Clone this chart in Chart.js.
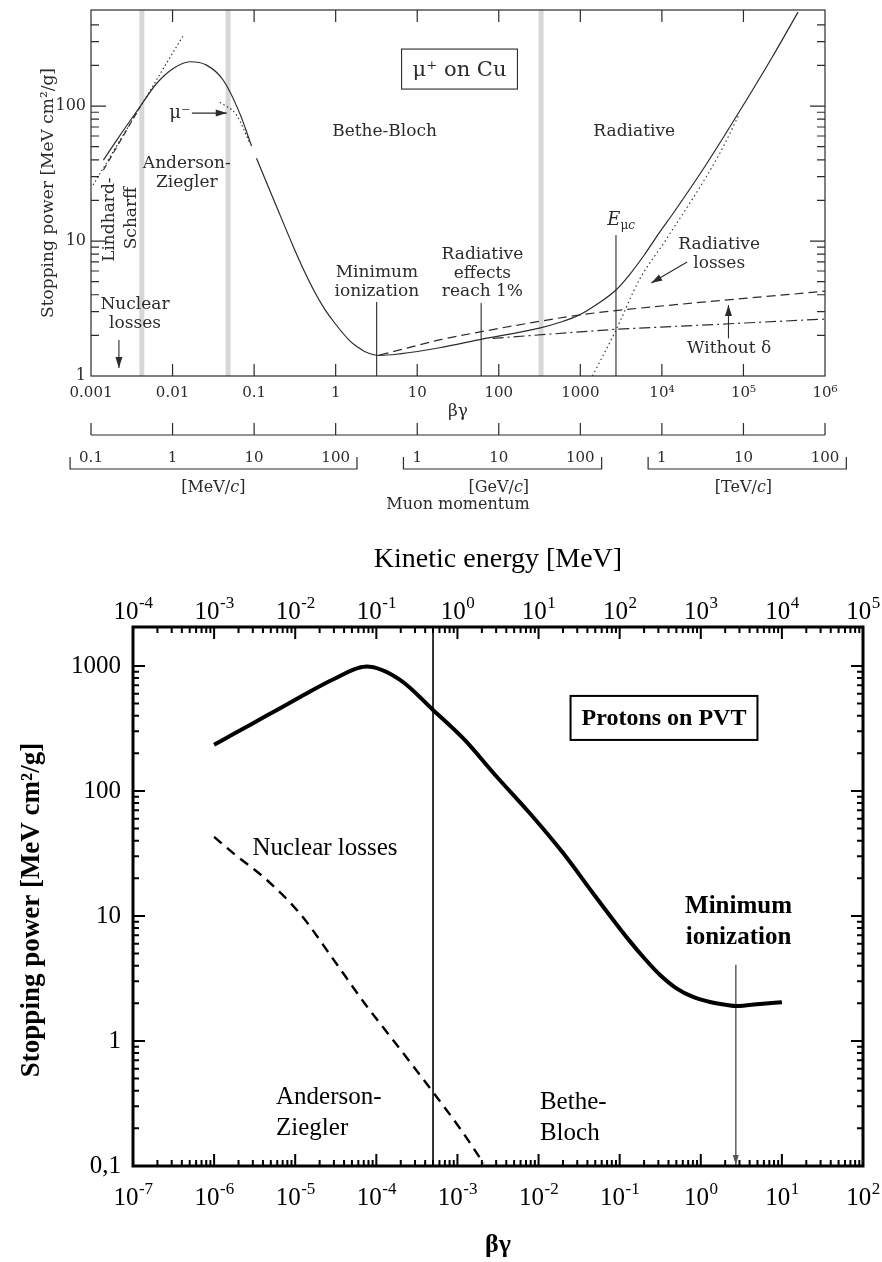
<!DOCTYPE html>
<html>
<head>
<meta charset="utf-8">
<script src="https://cdn.jsdelivr.net/npm/chart.js@4/dist/chart.umd.min.js"></script>
<style>
html,body{margin:0;padding:0;background:#fff;width:882px;height:1262px;overflow:hidden;}
#wrapTop{position:absolute;left:0;top:0;width:882px;height:530px;}
#wrapBot{position:absolute;left:0;top:530px;width:882px;height:732px;}
</style>
</head>
<body>
<div id="wrapTop"><canvas id="cTop" width="882" height="530"></canvas></div>
<div id="wrapBot"><canvas id="cBot" width="882" height="732"></canvas></div>
<script>
// ================= TOP CHART DATA : mu+ on Cu =================
const topXTicks  = [1e-3, 1e-2, 1e-1, 1, 10, 100, 1000, 1e4, 1e5, 1e6];
const topXLabels = ['0.001', '0.01', '0.1', '1', '10', '100', '1000', '10⁴', '10⁵', '10⁶'];
const topYTicks  = [1, 10, 100];
const topYLabels = ['1', '10', '100'];

// total stopping power, low-energy branch (Lindhard-Scharff / Anderson-Ziegler)
const muLowBG = [0.00142, 0.00207, 0.00398, 0.00637, 0.0102, 0.0163, 0.0261, 0.0417, 0.0667, 0.0929];
const muLowS  = [39.8, 56, 98.8, 147, 190, 213, 201, 156, 88.3, 50.6];
// Bethe-Bloch + radiative branch
const muHighBG = [0.107, 0.179, 0.315, 0.417, 0.553, 0.733, 0.973, 1.48, 1.83, 2.26, 3.46, 6.08, 18.7, 61, 314, 553, 973, 1616, 2735, 3980, 6080, 9270, 13500, 34600, 88400, 226000, 467000];
const muHighS  = [41, 19.4, 8.58, 5.89, 4.19, 3.13, 2.47, 1.83, 1.65, 1.52, 1.42, 1.46, 1.62, 1.87, 2.26, 2.49, 2.83, 3.41, 4.34, 5.6, 7.88, 11.5, 15.8, 36.6, 90.3, 231, 497];
// mu- (dotted)
const muMinusBG = [0.038, 0.0608, 0.089];
const muMinusS  = [107, 85.8, 53];
// Lindhard-Scharff extrapolation (dotted)
const lindhardBG = [0.00106, 0.0134];
const lindhardS  = [26, 330];
// low-energy dashed
const lowDashBG = [0.00142, 0.004];
const lowDashS  = [33.6, 98.8];
// dashed (ionization incl. delta rays)
const densityBG = [3.46, 6.08, 18.7, 61, 967, 2720, 1e6];
const densityS  = [1.43, 1.56, 1.85, 2.13, 2.83, 3.05, 4.25];
// dash-dot : without delta
const noDeltaBG = [84, 2720, 1e6];
const noDeltaS  = [1.9, 2.22, 2.64];
// radiative losses (dotted)
const radLossBG = [1406, 2735, 5270, 11200, 50000, 88000];
const radLossS  = [1, 2.19, 5.14, 10.2, 43.4, 86];
// region boundaries (grey bands)
const regionBG = [0.0042, 0.048, 330];
// marker lines: Minimum ionization, Radiative effects 1%, E_muc
const markerBG  = [3.18, 60.8, 2735];
const markerTop = [3.53, 3.47, 11.1];

// muon momentum scale
const momUnits   = ['MeV', 'GeV', 'TeV'];
const momLabels  = [['0.1', '1', '10', '100'], ['1', '10', '100'], ['1', '10', '100']];
const momAtBG    = [[1e-3, 1e-2, 1e-1, 1], [10, 100, 1000], [1e4, 1e5, 1e6]];

// ================= BOTTOM CHART DATA : protons on PVT =================
const botXTicks = [1e-7, 1e-6, 1e-5, 1e-4, 1e-3, 1e-2, 1e-1, 1, 10, 100];
const botXExp   = ['-7', '-6', '-5', '-4', '-3', '-2', '-1', '0', '1', '2'];
const keTicks   = [1e-4, 1e-3, 1e-2, 1e-1, 1, 10, 100, 1000, 1e4, 1e5];
const keExp     = ['-4', '-3', '-2', '-1', '0', '1', '2', '3', '4', '5'];
const botYTicks  = [0.1, 1, 10, 100, 1000];
const botYLabels = ['0,1', '1', '10', '100', '1000'];

const protonBG = [1e-6, 1.73e-6, 4.46e-6, 1.15e-5, 2.92e-5, 7.6e-5, 1.96e-4, 5.0e-4, 1.18e-3, 3.05e-3, 7.85e-3, 0.0202, 0.05, 0.128, 0.2, 0.315, 0.496, 0.803, 1.3, 2.11, 2.8, 5.38, 10];
const protonS  = [234, 285, 401, 564, 780, 990, 775, 445, 263, 130, 66, 31.7, 14.4, 6.5, 4.61, 3.37, 2.65, 2.25, 2.05, 1.94, 1.905, 1.98, 2.04];
const nuclearBG = [1e-6, 1.72e-6, 4.47e-6, 1.15e-5, 2.95e-5, 7.38e-5, 1.64e-4, 5.0e-4, 1.11e-3, 2.1e-3];
const nuclearS  = [43, 31.8, 19.4, 10.4, 4.5, 1.95, 1.0, 0.39, 0.194, 0.105];
const boundaryBG = 5.0e-4;       // Anderson-Ziegler / Bethe-Bloch boundary
const minIonBG = 2.7, minIonFrom = 4.06;

// ================= helpers =================
const INK = '#2b2b2b';
const FT = '"DejaVu Serif", serif';
const FB = '"Liberation Serif", "Times New Roman", serif';
function pts(xs, ys) { return xs.map((x, i) => ({x: x, y: ys[i]})); }
function line(xs, ys, opt) {
  return Object.assign({data: pts(xs, ys), showLine: true, pointRadius: 0, pointHitRadius: 0,
    borderColor: INK, borderWidth: 1.2, fill: false, cubicInterpolationMode: 'monotone'}, opt || {});
}
function logGrid(min, max) {
  const out = [];
  const e0 = Math.floor(Math.log10(min) + 1e-9), e1 = Math.ceil(Math.log10(max) - 1e-9);
  for (let e = e0; e <= e1; e++) for (let m = 1; m <= 9; m++) {
    const v = m * Math.pow(10, e);
    if (v >= min * 0.9999 && v <= max * 1.0001) out.push({v: v, major: m === 1});
  }
  return out;
}
function head(ctx, x1, y1, x2, y2, len, half) {
  const a = Math.atan2(y2 - y1, x2 - x1), c = Math.cos(a), s = Math.sin(a);
  ctx.beginPath();
  ctx.moveTo(x2, y2);
  ctx.lineTo(x2 - len * c + half * s, y2 - len * s - half * c);
  ctx.lineTo(x2 - len * c - half * s, y2 - len * s + half * c);
  ctx.closePath(); ctx.fill();
}
function arrow(ctx, x1, y1, x2, y2, lw, len, half) {
  ctx.lineWidth = lw;
  ctx.beginPath(); ctx.moveTo(x1, y1); ctx.lineTo(x2, y2); ctx.stroke();
  head(ctx, x1, y1, x2, y2, len, half);
}
function setTicks(values) { return s => { s.ticks = values.map(v => ({value: v})); }; }
function fixSize(prop, size) {
  return s => { s[prop] = size; s.paddingLeft = 0; s.paddingRight = 0; s.paddingTop = 0; s.paddingBottom = 0; };
}
function expLabel(ctx, cx, baseline, mant, exp, fMant, fExp, raise) {
  ctx.font = fMant; const wm = ctx.measureText(mant).width;
  ctx.font = fExp; const we = ctx.measureText(exp).width;
  const x0 = cx - (wm + we) / 2;
  ctx.textAlign = 'left'; ctx.textBaseline = 'alphabetic';
  ctx.font = fMant; ctx.fillText(mant, x0, baseline);
  ctx.font = fExp; ctx.fillText(exp, x0 + wm + 0.5, baseline - raise);
}

// ================= TOP CHART =================
const topNotes = [
  {lines: ['Bethe-Bloch'], x: 3.98, y: 64.2},
  {lines: ['Radiative'], x: 4580, y: 64.2},
  {lines: ['Anderson-', 'Ziegler'], x: 0.01496, y: 37.2},
  {lines: ['Nuclear', 'losses'], x: 0.00346, y: 3.36},
  {lines: ['Minimum', 'ionization'], x: 3.2, y: 5.79},
  {lines: ['Radiative', 'effects', 'reach 1%'], x: 63, y: 7.87},
  {lines: ['Radiative', 'losses'], x: 50400, y: 9.4},
  {lines: ['Without δ'], x: 66700, y: 1.61}
];
const topArrows = [
  {from: [0.01726, 88.7], to: [0.0462, 88.7]},
  {from: [0.0022, 1.85], to: [0.0022, 1.146]},
  {from: [20400, 6.99], to: [7400, 4.88]},
  {from: [65500, 1.90], to: [65500, 3.36]}
];

const topDecor = {
  id: 'topDecor',
  afterDraw(chart) {
    const ctx = chart.ctx, a = chart.chartArea, xs = chart.scales.x, ys = chart.scales.y;
    const X = v => xs.getPixelForValue(v), Y = v => ys.getPixelForValue(v);
    ctx.save();
    ctx.strokeStyle = INK; ctx.fillStyle = INK; ctx.lineWidth = 1.2;
    ctx.strokeRect(a.left, a.top, a.right - a.left, a.bottom - a.top);
    ctx.beginPath();
    topXTicks.forEach(v => {
      const px = X(v);
      if (px > a.left + 2 && px < a.right - 2) {
        ctx.moveTo(px, a.top); ctx.lineTo(px, a.top + 12);
        ctx.moveTo(px, a.bottom); ctx.lineTo(px, a.bottom - 12);
      }
    });
    logGrid(1, 515).forEach(t => {
      const py = Y(t.v);
      if (py < a.bottom - 2 && py > a.top + 2) {
        const L = t.major ? 15 : 8;
        ctx.moveTo(a.left, py); ctx.lineTo(a.left + L, py);
        ctx.moveTo(a.right, py); ctx.lineTo(a.right - L, py);
      }
    });
    ctx.stroke();

    // second beta-gamma / momentum axis line
    const y2 = a.bottom + 59;
    ctx.beginPath();
    ctx.moveTo(a.left, y2); ctx.lineTo(a.right, y2);
    topXTicks.forEach(v => { const px = X(v); ctx.moveTo(px, y2); ctx.lineTo(px, y2 - 12); });
    ctx.stroke();

    // momentum brackets
    ctx.textAlign = 'center'; ctx.textBaseline = 'middle';
    momAtBG.forEach((grp, gi) => {
      ctx.font = '15px ' + FT;
      const labs = momLabels[gi];
      const px = grp.map(X);
      labs.forEach((t, i) => ctx.fillText(t, px[i], a.bottom + 82));
      const l = px[0] - ctx.measureText(labs[0]).width / 2 - 9;
      const r = px[px.length - 1] + ctx.measureText(labs[labs.length - 1]).width / 2 + 7;
      const yb = a.bottom + 93;
      ctx.beginPath();
      ctx.moveTo(l, yb - 12); ctx.lineTo(l, yb); ctx.lineTo(r, yb); ctx.lineTo(r, yb - 12);
      ctx.stroke();
      const mid = X(Math.pow(10, (Math.log10(grp[0]) + Math.log10(grp[grp.length - 1])) / 2));
      ctx.font = '16px ' + FT;
      const p1 = '[' + momUnits[gi] + '/', p3 = ']';
      const w1 = ctx.measureText(p1).width, w3 = ctx.measureText(p3).width;
      ctx.font = 'italic 16px ' + FT;
      const w2 = ctx.measureText('c').width;
      const sx = mid - (w1 + w2 + w3) / 2;
      ctx.textAlign = 'left';
      ctx.font = '16px ' + FT; ctx.fillText(p1, sx, a.bottom + 112);
      ctx.font = 'italic 16px ' + FT; ctx.fillText('c', sx + w1, a.bottom + 112);
      ctx.font = '16px ' + FT; ctx.fillText(p3, sx + w1 + w2, a.bottom + 112);
      ctx.textAlign = 'center';
    });
    ctx.font = '16px ' + FT;
    ctx.fillText('Muon momentum', (a.left + a.right) / 2, a.bottom + 129);

    // annotations
    ctx.font = '17px ' + FT;
    topNotes.forEach(n => {
      const px = X(n.x), py = Y(n.y);
      n.lines.forEach((t, i) => ctx.fillText(t, px, py + i * 18.5));
    });
    [['Lindhard-', 0.00171, 14.4], ['Scharff', 0.00318, 14.8]].forEach(r => {
      ctx.save(); ctx.translate(X(r[1]), Y(r[2])); ctx.rotate(-Math.PI / 2);
      ctx.fillText(r[0], 0, 0); ctx.restore();
    });
    // E_muc
    ctx.textAlign = 'left';
    const ex = X(2140), ey = Y(14.3);
    ctx.font = 'italic 18px ' + FT; ctx.fillText('E', ex, ey);
    const we = ctx.measureText('E').width;
    ctx.font = '12px ' + FT; ctx.fillText('μ', ex + we, ey + 6);
    const wm = ctx.measureText('μ').width;
    ctx.font = 'italic 12px ' + FT; ctx.fillText('c', ex + we + wm, ey + 6);
    // mu- label
    ctx.textAlign = 'center';
    ctx.font = '18px ' + FT; ctx.fillText('μ⁻', X(0.0123), Y(88.7));
    topArrows.forEach(ar => arrow(ctx, X(ar.from[0]), Y(ar.from[1]), X(ar.to[0]), Y(ar.to[1]), 1.1, 11, 3.5));
    // mu+ on Cu box
    ctx.font = '21px ' + FT;
    const bx = X(33), by = Y(188);
    const bw = ctx.measureText('μ⁺ on Cu').width + 22;
    ctx.lineWidth = 1.1;
    ctx.strokeRect(bx - bw / 2, by - 20, bw, 40);
    ctx.fillText('μ⁺ on Cu', bx, by + 1);
    ctx.restore();
  }
};

const topDatasets = [
  line(muLowBG, muLowS),
  line(muHighBG, muHighS),
  line(lindhardBG, lindhardS, {borderDash: [1.5, 2.6], borderWidth: 1.1}),
  line(lowDashBG, lowDashS, {borderDash: [6, 4]}),
  line(muMinusBG, muMinusS, {borderDash: [1.5, 2.6], borderWidth: 1.1}),
  line(densityBG, densityS, {borderDash: [9, 5]}),
  line(noDeltaBG, noDeltaS, {borderDash: [11, 4, 2, 4], cubicInterpolationMode: 'default'}),
  line(radLossBG, radLossS, {borderDash: [1.5, 3], borderWidth: 1.1}),
];
markerBG.forEach((v, i) => topDatasets.push(line([v, v], [1, markerTop[i]], {borderWidth: 1.1, cubicInterpolationMode: 'default'})));
regionBG.forEach(v => topDatasets.push(line([v, v], [1, 515], {borderWidth: 5, borderColor: 'rgba(175,175,175,0.5)', order: 10, cubicInterpolationMode: 'default'})));

new Chart(document.getElementById('cTop'), {
  type: 'scatter',
  data: {datasets: topDatasets},
  options: {
    responsive: false, animation: false, events: [],
    layout: {padding: {top: 10, right: 57, bottom: 108, left: 0}},
    plugins: {legend: {display: false}, tooltip: {enabled: false}},
    scales: {
      x: {
        type: 'logarithmic', position: 'bottom', min: 1e-3, max: 1e6,
        afterBuildTicks: setTicks(topXTicks),
        afterFit: fixSize('height', 46),
        grid: {display: false, drawTicks: false}, border: {display: false},
        ticks: {autoSkip: false, maxRotation: 0, padding: 8, color: INK,
          font: {family: FT, size: 15}, callback: (v, i) => topXLabels[i]},
        title: {display: true, text: 'βγ', color: INK, font: {family: FT, size: 17}, padding: {top: 0, bottom: 0}}
      },
      y: {
        type: 'logarithmic', position: 'left', min: 1, max: 515,
        afterBuildTicks: setTicks(topYTicks),
        afterFit: fixSize('width', 91),
        grid: {display: false, drawTicks: false}, border: {display: false},
        ticks: {autoSkip: false, padding: 5, color: INK,
          font: {family: FT, size: 16}, callback: (v, i) => topYLabels[i]},
        title: {display: true, text: 'Stopping power [MeV cm²/g]', color: INK,
          font: {family: FT, size: 17}, padding: {top: 38, bottom: 0}}
      }
    }
  },
  plugins: [topDecor]
});

// ================= BOTTOM CHART =================
const botNotes = [
  {lines: ['Nuclear losses'], x: 2.33e-5, y: 35, align: 'center', bold: false},
  {lines: ['Anderson-', 'Ziegler'], x: 5.8e-6, y: 0.356, align: 'left', bold: false},
  {lines: ['Bethe-', 'Bloch'], x: 0.0104, y: 0.325, align: 'left', bold: false},
  {lines: ['Minimum', 'ionization'], x: 2.92, y: 11.8, align: 'center', bold: true}
];

const botDecor = {
  id: 'botDecor',
  afterDraw(chart) {
    const ctx = chart.ctx, a = chart.chartArea;
    const xs = chart.scales.x, xt = chart.scales.xTop, ys = chart.scales.y;
    const X = v => xs.getPixelForValue(v), Y = v => ys.getPixelForValue(v);
    ctx.save();
    ctx.strokeStyle = '#000'; ctx.fillStyle = '#000';
    ctx.lineWidth = 2;
    ctx.beginPath();
    logGrid(1e-7, 100).forEach(t => {
      const px = X(t.v);
      if (px > a.left + 3 && px < a.right - 3) { ctx.moveTo(px, a.bottom); ctx.lineTo(px, a.bottom - (t.major ? 12 : 6)); }
    });
    logGrid(1e-4, 1e5).forEach(t => {
      const px = xt.getPixelForValue(t.v);
      if (px > a.left + 3 && px < a.right - 3) { ctx.moveTo(px, a.top); ctx.lineTo(px, a.top + (t.major ? 12 : 6)); }
    });
    logGrid(0.1, 2050).forEach(t => {
      const py = Y(t.v);
      if (py < a.bottom - 3 && py > a.top + 3) {
        const L = t.major ? 12 : 6;
        ctx.moveTo(a.left, py); ctx.lineTo(a.left + L, py);
        ctx.moveTo(a.right, py); ctx.lineTo(a.right - L, py);
      }
    });
    ctx.stroke();
    ctx.lineWidth = 3;
    ctx.strokeRect(a.left, a.top, a.right - a.left, a.bottom - a.top);

    // power-of-ten tick labels (bottom: beta*gamma, top: kinetic energy)
    const fM = '25px ' + FB, fE = '17px ' + FB;
    botXTicks.forEach((v, i) => expLabel(ctx, X(v), a.bottom + 39, '10', botXExp[i], fM, fE, 11));
    keTicks.forEach((v, i) => expLabel(ctx, xt.getPixelForValue(v), a.top - 8, '10', keExp[i], fM, fE, 11));

    // labels
    ctx.textBaseline = 'middle';
    botNotes.forEach(n => {
      ctx.font = (n.bold ? 'bold ' : '') + '25px ' + FB;
      ctx.textAlign = n.align;
      n.lines.forEach((t, i) => ctx.fillText(t, X(n.x), Y(n.y) + i * 31));
    });
    ctx.textAlign = 'center';
    ctx.font = 'bold 24px ' + FB;
    const bx = X(0.352), by = Y(384);
    const bw = ctx.measureText('Protons on PVT').width + 22;
    ctx.lineWidth = 2;
    ctx.strokeRect(bx - bw / 2, by - 22, bw, 44);
    ctx.fillText('Protons on PVT', bx, by + 1);
    ctx.fillStyle = '#555';
    head(ctx, X(minIonBG), Y(minIonFrom), X(minIonBG), Y(0.1) - 1, 10, 3);
    ctx.restore();
  }
};

new Chart(document.getElementById('cBot'), {
  type: 'scatter',
  data: {datasets: [
    line(protonBG, protonS, {borderColor: '#000', borderWidth: 4}),
    line(nuclearBG, nuclearS, {borderColor: '#000', borderWidth: 2.4, borderDash: [10, 7]}),
    line([boundaryBG, boundaryBG], [0.1, 2050], {borderColor: '#000', borderWidth: 1.6, cubicInterpolationMode: 'default'}),
    line([minIonBG, minIonBG], [minIonFrom, 0.1], {borderColor: '#666', borderWidth: 1, cubicInterpolationMode: 'default'})
  ]},
  options: {
    responsive: false, animation: false, events: [],
    layout: {padding: {top: 0, right: 19, bottom: 0, left: 0}},
    plugins: {legend: {display: false}, tooltip: {enabled: false}},
    scales: {
      x: {
        type: 'logarithmic', position: 'bottom', min: 1e-7, max: 100,
        afterBuildTicks: setTicks(botXTicks),
        afterFit: fixSize('height', 96),
        grid: {display: false, drawTicks: false}, border: {display: false},
        ticks: {display: false},
        title: {display: true, text: 'βγ', color: '#000', font: {family: FB, size: 26, weight: 'bold'}, padding: {top: 0, bottom: 1}}
      },
      xTop: {
        type: 'logarithmic', position: 'top', min: 1e-4, max: 1e5,
        afterBuildTicks: setTicks(keTicks),
        afterFit: fixSize('height', 97),
        grid: {display: false, drawTicks: false}, border: {display: false},
        ticks: {display: false},
        title: {display: true, text: 'Kinetic energy [MeV]', color: '#000', font: {family: FB, size: 28}, padding: {top: 13, bottom: 0}}
      },
      y: {
        type: 'logarithmic', position: 'left', min: 0.1, max: 2050,
        afterBuildTicks: setTicks(botYTicks),
        afterFit: fixSize('width', 133),
        grid: {display: false, drawTicks: false}, border: {display: false},
        ticks: {autoSkip: false, padding: 12, color: '#000',
          font: {family: FB, size: 25}, callback: (v, i) => botYLabels[i]},
        title: {display: true, text: 'Stopping power [MeV cm²/g]\u00a0\u00a0\u00a0\u00a0', color: '#000',
          font: {family: FB, size: 27, weight: 'bold'}, padding: {top: 16, bottom: 0}}
      }
    }
  },
  plugins: [botDecor]
});
</script>
</body>
</html>
